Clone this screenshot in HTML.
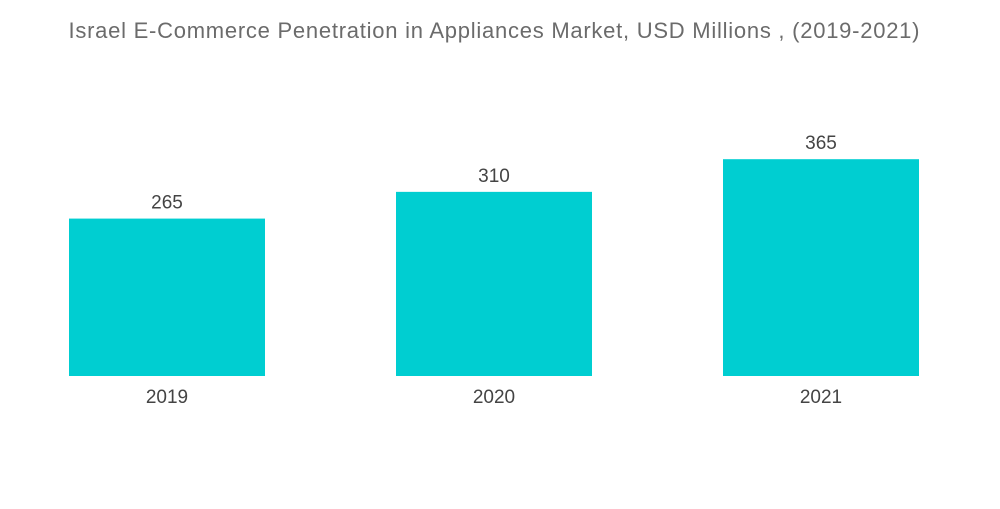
<!DOCTYPE html>
<html><head><meta charset="utf-8"><style>
body{margin:0;background:#fff;width:1000px;height:504px;overflow:hidden;font-family:"Liberation Sans",sans-serif}
</style></head><body>
<svg width="1000" height="504">
<text x="494" y="38" text-anchor="middle" font-size="22" textLength="851" lengthAdjust="spacing" fill="#6b6b6b">Israel E-Commerce Penetration in Appliances Market, USD Millions , (2019-2021)</text>
<g id="bars"></g>
</svg>
<script>
const categories=["2019","2020","2021"];
const values=[265,310,365];
const valueLabels=["265","310","365"];
const baseY=376, pxPerUnit=0.594, barW=196, x0=69, step=327;
const yScale=v=>baseY-v*pxPerUnit;
const xScale=i=>x0+i*step;
const g=document.getElementById('bars');
const ns="http://www.w3.org/2000/svg";
categories.forEach((c,i)=>{
  const r=document.createElementNS(ns,'rect');
  r.setAttribute('x',xScale(i));r.setAttribute('y',yScale(values[i]));
  r.setAttribute('width',barW);r.setAttribute('height',baseY-yScale(values[i]));
  r.setAttribute('fill','#00CED1');
  
  
  g.appendChild(r);
  const t=document.createElementNS(ns,'text');
  t.setAttribute('x',xScale(i)+barW/2);t.setAttribute('y',yScale(values[i])-10);
  t.setAttribute('text-anchor','middle');t.setAttribute('font-size','19');t.setAttribute('fill','#444');
  t.textContent=valueLabels[i];
  
  
  g.appendChild(t);
  const l=document.createElementNS(ns,'text');
  l.setAttribute('x',xScale(i)+barW/2);l.setAttribute('y',baseY+27);
  l.setAttribute('text-anchor','middle');l.setAttribute('font-size','19');l.setAttribute('fill','#444');
  l.textContent=c;
  
  
  g.appendChild(l);
});
</script>
</body></html>
